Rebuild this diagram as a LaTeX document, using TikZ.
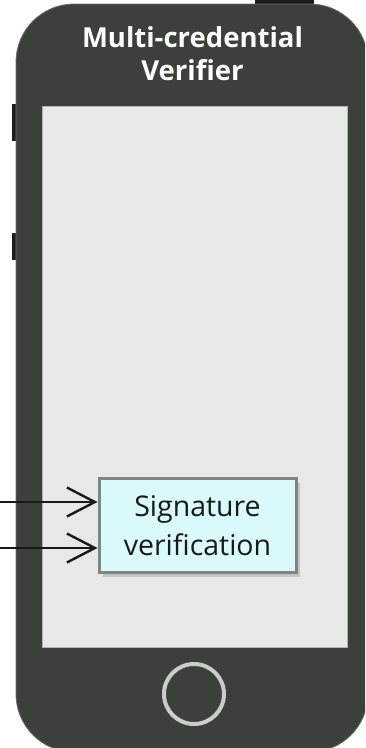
\documentclass[tikz,border=0pt]{standalone}
\usepackage{fontspec}
\setmainfont{Open Sans}
\usetikzlibrary{arrows.meta,positioning,calc,shadows}
\definecolor{PhoneBody}{HTML}{3C403B}
\definecolor{PhoneKey}{HTML}{1C1D1C}
\definecolor{ScreenGray}{HTML}{E8E8E8}
\definecolor{TaskCyan}{HTML}{DAF9FB}
\definecolor{TaskBorder}{HTML}{7D877D}
\definecolor{HomeRing}{HTML}{CCCCCC}

\begin{document}
\begin{tikzpicture}[
        x=1pt, y=-1pt,
        phone/.style={
          fill=PhoneBody,
          draw=PhoneBody!75!white,
          line width=0.8pt,
          rounded corners=58pt
        },
        key/.style={fill=PhoneKey},
        screen/.style={fill=ScreenGray, draw=gray!60, line width=0.6pt},
        title/.style={
          text=white,
          align=center,
          font=\fontsize{27.5}{33}\selectfont\bfseries
        },
        task/.style={
          draw=TaskBorder,
          fill=TaskCyan,
          line width=3pt,
          align=center,
          text=black!90,
          inner sep=0pt,
          minimum width=197pt,
          minimum height=94pt,
          font=\fontsize{28.5}{39}\selectfont,
          drop shadow={shadow xshift=4pt, shadow yshift=-4pt, opacity=0.35}
        },
        home/.style={circle, draw=HomeRing, line width=4pt, minimum size=60pt},
        arrow/.style={-{Straight Barb[length=28pt, width=29pt]}, line width=2.4pt, draw=black!90}
      ]
        \useasboundingbox (0,0) rectangle (365,748);
        \clip (0,0) rectangle (365,748);

        % side keys and top key, behind the body
        \fill[key] (255,0) rectangle (314,8);
        \fill[key] (12,104) rectangle (18,141);
        \fill[key] (12,233) rectangle (18,260);

        % body and screen
        \draw[phone] (16,4) rectangle (368,752);
        \draw[screen] (42,106) rectangle (347,647);

        \node[title] (heading) at (192.5,54) {Multi-credential\\Verifier};
        \node[task] (sigcheck) at (197.5,525.5) {Signature\\verification};
        \node[home] (homekey) at (194,694) {};

        \coordinate (inA) at (0,502);
        \coordinate (inB) at (0,548);
        \draw[arrow] (inA) -- (inA -| sigcheck.west);
        \draw[arrow] (inB) -- (inB -| sigcheck.west);
      \end{tikzpicture}
\end{document}
